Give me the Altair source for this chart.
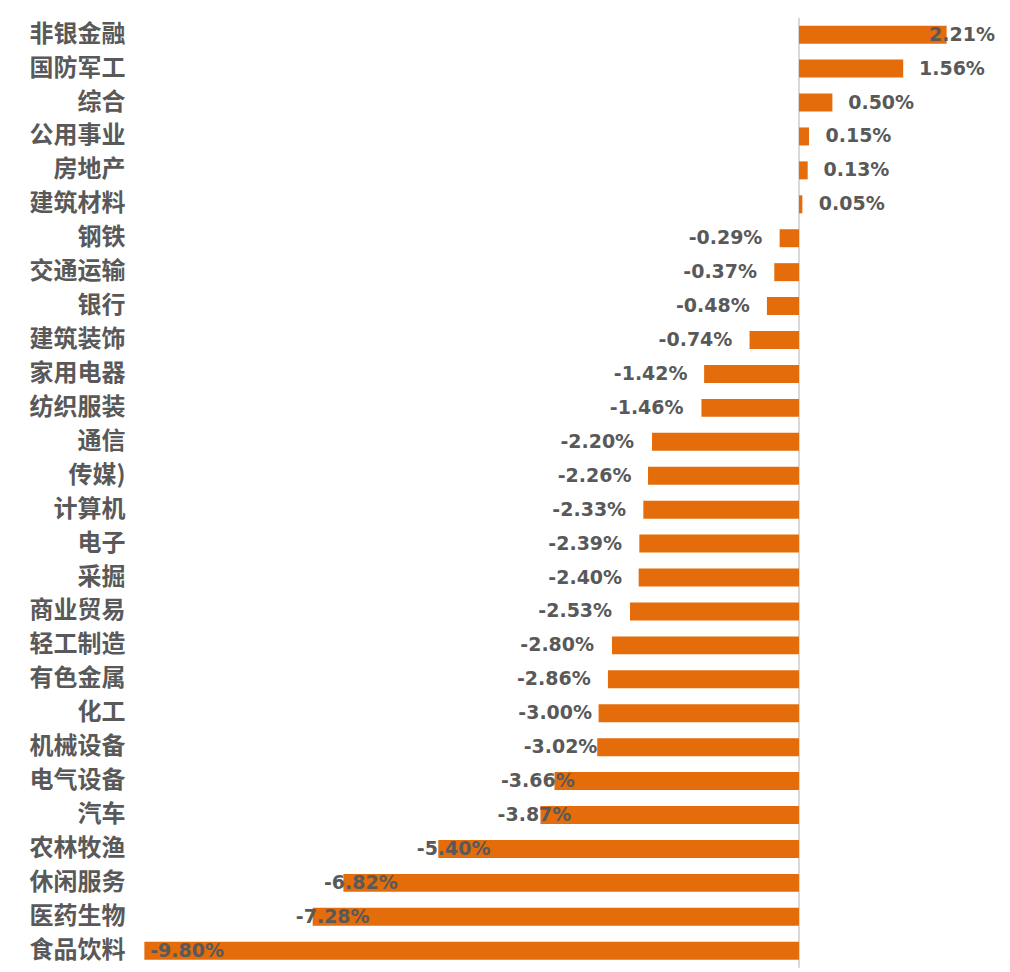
import altair as alt
import pandas as pd

categories = ["非银金融", "国防军工", "综合", "公用事业", "房地产", "建筑材料", "钢铁",
              "交通运输", "银行", "建筑装饰", "家用电器", "纺织服装", "通信", "传媒)",
              "计算机", "电子", "采掘", "商业贸易", "轻工制造", "有色金属", "化工",
              "机械设备", "电气设备", "汽车", "农林牧渔", "休闲服务", "医药生物", "食品饮料"]
values = [2.21, 1.56, 0.50, 0.15, 0.13, 0.05, -0.29,
          -0.37, -0.48, -0.74, -1.42, -1.46, -2.20, -2.26,
          -2.33, -2.39, -2.40, -2.53, -2.80, -2.86, -3.00,
          -3.02, -3.66, -3.87, -5.40, -6.82, -7.28, -9.80]
# where each data label sits (centre), in the same % units
label_at = [2.44, 2.29, 1.23, 0.89, 0.86, 0.79, -1.10,
            -1.18, -1.29, -1.55, -2.22, -2.28, -3.02, -3.06,
            -3.14, -3.20, -3.20, -3.35, -3.62, -3.67, -3.65,
            -3.57, -3.91, -3.96, -5.17, -6.56, -6.98, -9.16]
labels = [f"{v:.2f}%" for v in values]

df = pd.DataFrame({"cat": categories, "val": values, "lx": label_at, "lab": labels})

x_scale = alt.Scale(domain=[-10, 3], nice=False, zero=False)
y_enc = alt.Y("cat:N", sort=None,
              scale=alt.Scale(paddingInner=0.47, paddingOuter=0.235),
              axis=alt.Axis(title=None, domain=False, ticks=False, labelPadding=6,
                            labelFont="Noto Sans CJK SC", labelFontSize=24,
                            labelFontWeight="bold", labelColor="#595959",
                            labelLimit=300))

rule = alt.Chart(pd.DataFrame({"z": [0]})).mark_rule(color="#D9D9D9", strokeWidth=2).encode(
    x=alt.X("z:Q", scale=x_scale, axis=None)
)

bars = alt.Chart(df).mark_bar(color="#E46C0A").encode(
    x=alt.X("val:Q", scale=x_scale, axis=None),
    x2=alt.datum(0),
    y=y_enc,
)

text = alt.Chart(df).mark_text(
    align="center", baseline="middle", font="DejaVu Sans", fontWeight="bold",
    fontSize=19, color="#595959"
).encode(
    x=alt.X("lx:Q", scale=x_scale, axis=None),
    y=alt.Y("cat:N", sort=None),
    text="lab:N",
)

chart = alt.layer(rule, bars, text).properties(
    width=868.4, height=950,
    autosize=alt.AutoSizeParams(type="none"),
    padding={"left": 131, "top": 17.7, "right": 0, "bottom": 0},
    background="white",
).configure_view(stroke=None)

chart.save("out.html", embed_options={"renderer": "svg", "actions": False})
